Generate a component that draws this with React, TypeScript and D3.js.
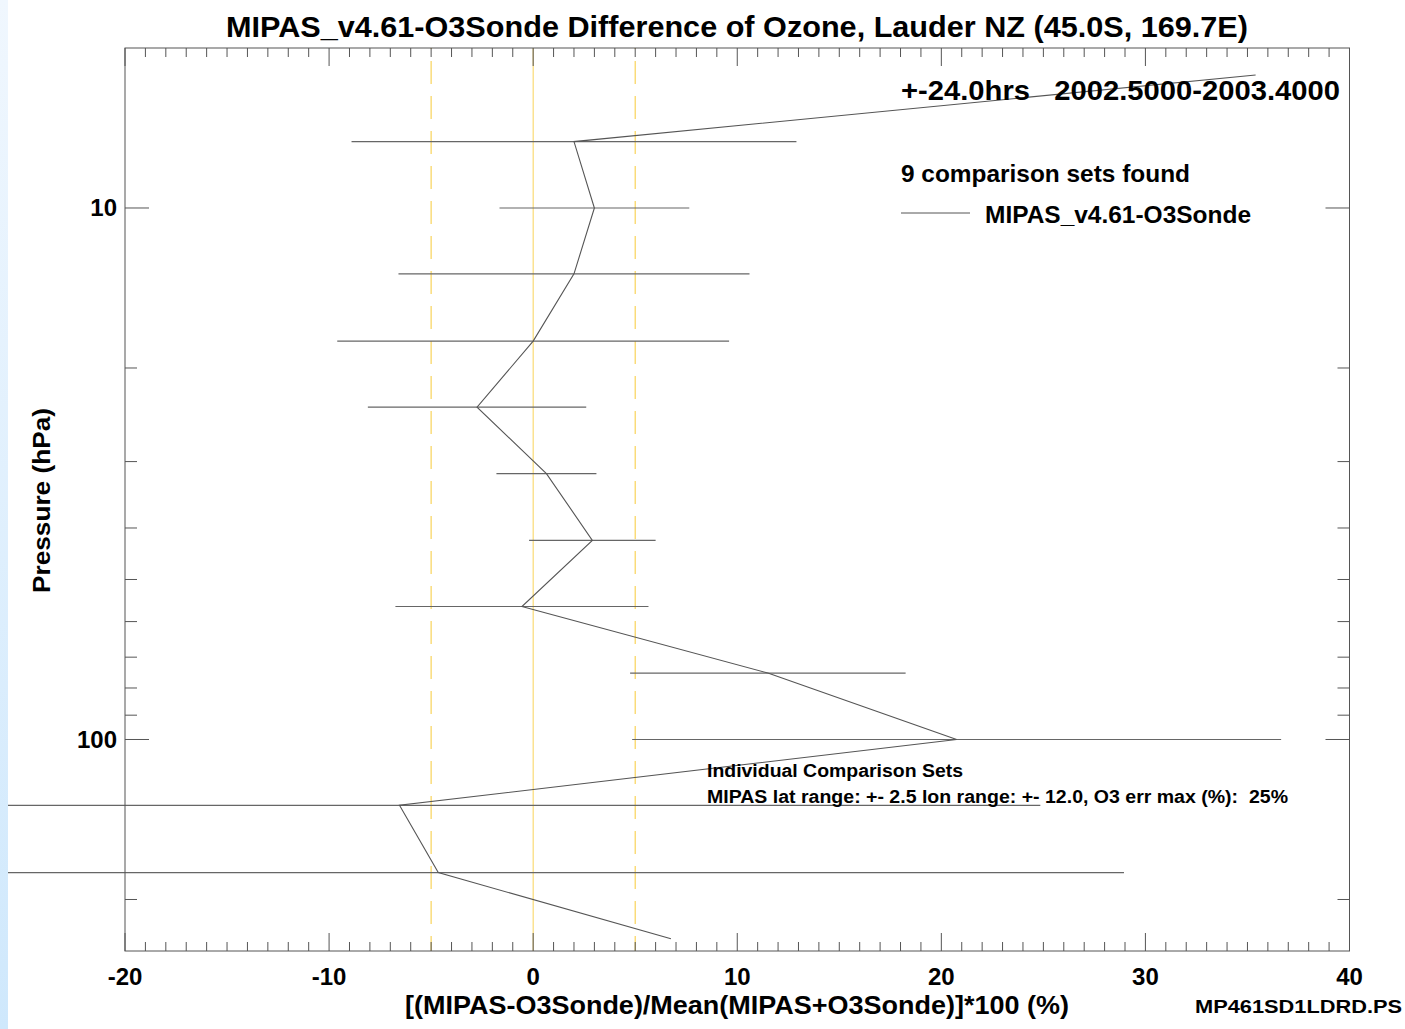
import * as d3 from "d3";

const W = 1405;
const H = 1029;
const MARGIN = { top: 48, right: 55.5, bottom: 78, left: 125 };
const FONT = "'Liberation Sans', Arial, Helvetica, sans-serif";

// pressure levels (hPa) of the comparison profile
const PRESSURE = [5.62, 7.5, 10, 13.3, 17.8, 23.7, 31.6, 42.2, 56.2, 75, 100, 133, 178, 237];
// mean relative difference (%) at each level
const DIFF = [35.4, 2.0, 3.0, 2.0, 0.0, -2.75, 0.65, 2.9, -0.55, 11.5, 20.75, -6.55, -4.65, 6.75];
// half width of the error bar (%), null where none is drawn
const ERR = [null, 10.9, 4.65, 8.6, 9.6, 5.35, 2.45, 3.1, 6.2, 6.75, 15.9, 31.4, 33.6, null];

const X_MAJOR = [-20, -10, 0, 10, 20, 30, 40];
const Y_MAJOR = [10, 100];
const Y_MINOR = [20, 30, 40, 50, 60, 70, 80, 90, 200];
const REF_SOLID = [0];
const REF_DASHED = [-5, 5];

type Pt = { p: number; d: number; e: number | null };

export default function App() {
  const x0 = MARGIN.left;
  const x1 = W - MARGIN.right;
  const y0 = MARGIN.top;
  const y1 = H - MARGIN.bottom;

  const xScale = d3.scaleLinear().domain([-20, 40]).range([x0, x1]);
  const yScale = d3.scaleLog().domain([5, 250]).range([y0, y1]);

  const pts: Pt[] = PRESSURE.map((p, i) => ({ p, d: DIFF[i], e: ERR[i] }));
  const line = d3
    .line<Pt>()
    .x((d) => xScale(d.d))
    .y((d) => yScale(d.p));

  const xMinor = xScale.ticks(60).filter((t) => !X_MAJOR.includes(t));
  const axisColor = "#555";

  return (
    <svg
      width={W}
      height={H}
      style={{ position: "absolute", left: 0, top: 0, background: "#fff" }}
      fontFamily={FONT}
    >
      <defs>
        <linearGradient id="strip" x1="0" y1="0" x2="0" y2="1">
          <stop offset="0%" stopColor="#f0f7fe" />
          <stop offset="100%" stopColor="#cfe8fc" />
        </linearGradient>
      </defs>
      <rect x={0} y={0} width={W} height={H} fill="#fff" />

      {/* reference lines */}
      {REF_SOLID.map((v) => (
        <line key={"s" + v} x1={xScale(v)} x2={xScale(v)} y1={y0} y2={y1} stroke="#f9d35a" strokeWidth={1} />
      ))}
      {REF_DASHED.map((v) => (
        <line
          key={"d" + v}
          x1={xScale(v)}
          x2={xScale(v)}
          y1={y0}
          y2={y1}
          stroke="#f9d35a"
          strokeWidth={1.2}
          strokeDasharray="23 12"
          strokeDashoffset={22}
        />
      ))}

      {/* error bars */}
      {pts
        .filter((d) => d.e !== null)
        .map((d, i) => (
          <line
            key={"e" + i}
            x1={xScale(d.d - (d.e as number))}
            x2={xScale(d.d + (d.e as number))}
            y1={yScale(d.p)}
            y2={yScale(d.p)}
            stroke="#666"
            strokeWidth={1.2}
          />
        ))}

      {/* profile */}
      <path d={line(pts) || ""} fill="none" stroke="#555" strokeWidth={1.1} />

      {/* frame */}
      <rect x={x0} y={y0} width={x1 - x0} height={y1 - y0} fill="none" stroke={axisColor} strokeWidth={1} />

      {/* x ticks */}
      {X_MAJOR.map((t) => (
        <g key={"xm" + t}>
          <line x1={xScale(t)} x2={xScale(t)} y1={y1} y2={y1 - 18} stroke={axisColor} />
          <line x1={xScale(t)} x2={xScale(t)} y1={y0} y2={y0 + 18} stroke={axisColor} />
          <text x={xScale(t)} y={985} textAnchor="middle" fontSize={24} fontWeight={700} fill="#000">
            {t}
          </text>
        </g>
      ))}
      {xMinor.map((t) => (
        <g key={"xn" + t}>
          <line x1={xScale(t)} x2={xScale(t)} y1={y1} y2={y1 - 9} stroke={axisColor} />
          <line x1={xScale(t)} x2={xScale(t)} y1={y0} y2={y0 + 9} stroke={axisColor} />
        </g>
      ))}

      {/* y ticks */}
      {Y_MAJOR.map((t) => (
        <g key={"ym" + t}>
          <line x1={x0} x2={x0 + 24} y1={yScale(t)} y2={yScale(t)} stroke={axisColor} />
          <line x1={x1} x2={x1 - 24} y1={yScale(t)} y2={yScale(t)} stroke={axisColor} />
          <text x={117} y={yScale(t) + 8.5} textAnchor="end" fontSize={24} fontWeight={700} fill="#000">
            {t}
          </text>
        </g>
      ))}
      {Y_MINOR.map((t) => (
        <g key={"yn" + t}>
          <line x1={x0} x2={x0 + 12} y1={yScale(t)} y2={yScale(t)} stroke={axisColor} />
          <line x1={x1} x2={x1 - 12} y1={yScale(t)} y2={yScale(t)} stroke={axisColor} />
        </g>
      ))}

      {/* titles */}
      <text x={737} y={37} textAnchor="middle" fontSize={30} fontWeight={700} textLength={1022} lengthAdjust="spacingAndGlyphs">
        MIPAS_v4.61-O3Sonde Difference of Ozone, Lauder NZ (45.0S, 169.7E)
      </text>
      <text x={901} y={100} fontSize={28} fontWeight={700} textLength={439} lengthAdjust="spacingAndGlyphs" xmlSpace="preserve">
        {"+-24.0hrs   2002.5000-2003.4000"}
      </text>
      <text x={901} y={182} fontSize={24} fontWeight={700} textLength={289} lengthAdjust="spacingAndGlyphs">
        9 comparison sets found
      </text>
      <line x1={901} x2={970} y1={213} y2={213} stroke="#555" />
      <text x={985} y={223} fontSize={24} fontWeight={700} textLength={266} lengthAdjust="spacingAndGlyphs">
        MIPAS_v4.61-O3Sonde
      </text>
      <text x={707} y={777} fontSize={18} fontWeight={700} textLength={256} lengthAdjust="spacingAndGlyphs">
        Individual Comparison Sets
      </text>
      <text x={707} y={803} fontSize={18} fontWeight={700} textLength={581} lengthAdjust="spacingAndGlyphs" xmlSpace="preserve">
        {"MIPAS lat range: +- 2.5 lon range: +- 12.0, O3 err max (%):  25%"}
      </text>
      <text
        transform="translate(50,500.5) rotate(-90)"
        textAnchor="middle"
        fontSize={24}
        fontWeight={700}
        textLength={185}
        lengthAdjust="spacingAndGlyphs"
      >
        Pressure (hPa)
      </text>
      <text x={737} y={1014} textAnchor="middle" fontSize={25} fontWeight={700} textLength={664} lengthAdjust="spacingAndGlyphs">
        [(MIPAS-O3Sonde)/Mean(MIPAS+O3Sonde)]*100 (%)
      </text>
      <text x={1195} y={1013} fontSize={19} fontWeight={700} textLength={207} lengthAdjust="spacingAndGlyphs">
        MP461SD1LDRD.PS
      </text>

      <rect x={0} y={0} width={8} height={H} fill="url(#strip)" />
    </svg>
  );
}
